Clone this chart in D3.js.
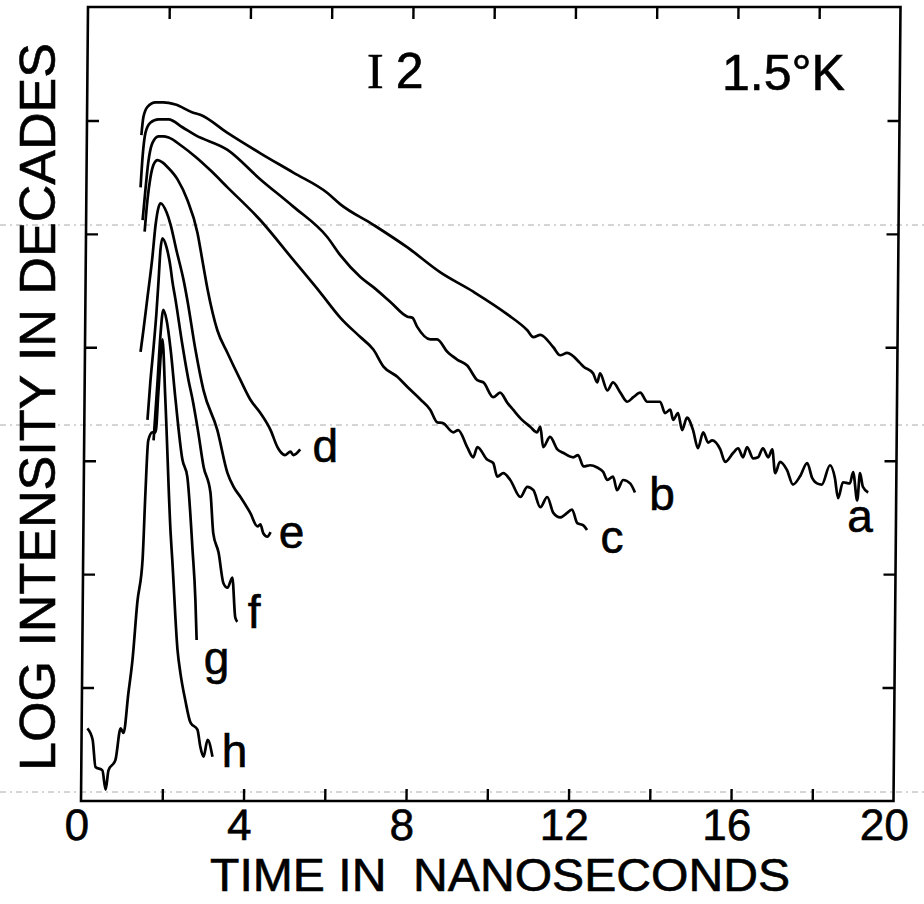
<!DOCTYPE html>
<html>
<head>
<meta charset="utf-8">
<script src="https://cdn.jsdelivr.net/npm/d3@7"></script>
<style>
  html, body { margin: 0; padding: 0; background: #fff; }
  svg { display: block; }
  text { font-family: "Liberation Sans", Arial, Helvetica, sans-serif; fill: #000; stroke: #000; stroke-width: 0.6; }
</style>
</head>
<body>
<div id="chart"></div>
<script>
// decay curves, [time in ns, log intensity in decades]
const curveA = [[1.40,5.87],[1.45,6.03],[1.55,6.12],[1.75,6.16],[1.94,6.16],[2.24,6.14],[2.66,6.07],[2.85,6.05],[3.52,5.89],[4.33,5.71],[5.14,5.54],[5.98,5.36],[6.30,5.26],[7.11,5.08],[7.95,4.88],[8.76,4.66],[9.57,4.49],[10.41,4.29],[10.90,4.15],[11.05,4.09],[11.22,4.11],[11.54,4.00],[11.71,3.93],[11.88,3.95],[12.20,3.86],[12.28,3.83],[12.52,3.77],[12.62,3.69],[12.69,3.77],[12.87,3.62],[13.01,3.69],[13.19,3.60],[13.36,3.52],[13.51,3.56],[13.68,3.60],[13.85,3.52],[14.17,3.52],[14.29,3.42],[14.42,3.45],[14.49,3.36],[14.61,3.42],[14.71,3.27],[14.83,3.38],[14.98,3.27],[15.10,3.11],[15.23,3.25],[15.35,3.16],[15.45,3.18],[15.65,3.10],[15.77,2.99],[15.97,3.07],[16.09,3.11],[16.21,3.03],[16.31,3.12],[16.46,3.02],[16.58,3.03],[16.70,3.11],[16.83,3.03],[16.93,3.10],[17.00,2.89],[17.12,2.99],[17.29,2.92],[17.44,2.79],[17.61,2.86],[17.79,2.98],[17.91,2.85],[18.03,2.80],[18.15,2.79],[18.35,2.96],[18.47,2.85],[18.55,2.67],[18.67,2.81],[18.84,2.80],[18.92,2.90],[19.02,2.65],[19.09,2.89],[19.16,2.77],[19.29,2.72]];
const curveB = [[1.38,5.41],[1.43,5.68],[1.50,5.89],[1.62,5.98],[1.82,6.01],[2.07,6.01],[2.41,5.94],[2.73,5.87],[3.52,5.74],[4.33,5.48],[5.14,5.24],[5.98,4.97],[6.30,4.81],[6.79,4.62],[7.11,4.53],[7.53,4.40],[7.95,4.27],[8.07,4.26],[8.19,4.18],[8.51,4.07],[8.68,4.07],[8.93,3.96],[9.18,3.89],[9.42,3.84],[9.67,3.71],[9.82,3.69],[10.06,3.56],[10.23,3.60],[10.41,3.51],[10.55,3.45],[10.77,3.36],[10.97,3.30],[11.14,3.25],[11.22,3.30],[11.29,3.12],[11.46,3.21],[11.64,3.10],[11.78,3.07],[12.03,3.03],[12.15,3.05],[12.28,2.95],[12.45,2.96],[12.62,2.94],[12.77,2.90],[12.87,2.83],[13.01,2.86],[13.11,2.74],[13.26,2.83],[13.43,2.80],[13.55,2.72]];
const curveC = [[1.43,5.12],[1.50,5.39],[1.57,5.63],[1.67,5.80],[1.82,5.86],[1.94,5.86],[2.07,5.85],[2.41,5.77],[2.73,5.68],[3.10,5.56],[3.52,5.41],[4.33,5.12],[5.14,4.77],[5.81,4.48],[6.30,4.26],[6.79,4.09],[7.11,3.98],[7.36,3.83],[7.70,3.74],[7.95,3.65],[8.27,3.54],[8.51,3.45],[8.68,3.34],[8.83,3.33],[9.08,3.25],[9.20,3.27],[9.42,3.12],[9.57,3.03],[9.67,3.12],[9.91,3.01],[10.06,2.98],[10.16,2.86],[10.31,2.89],[10.48,2.83],[10.73,2.68],[10.90,2.77],[11.05,2.74],[11.22,2.59],[11.39,2.68],[11.54,2.54],[11.71,2.50],[11.88,2.54],[12.00,2.57],[12.13,2.45],[12.28,2.43],[12.37,2.39]];
const curveD = [[1.48,5.02],[1.55,5.30],[1.62,5.49],[1.70,5.61],[1.80,5.65],[1.92,5.63],[2.04,5.59],[2.29,5.48],[2.53,5.30],[2.78,5.01],[2.90,4.77],[3.03,4.51],[3.27,4.15],[3.52,3.95],[3.84,3.71],[4.08,3.54],[4.33,3.42],[4.58,3.27],[4.75,3.12],[4.82,3.08],[4.94,3.05],[5.07,3.08],[5.14,3.05],[5.31,3.10]];
const curveE = [[1.38,3.96],[1.45,4.15],[1.55,4.44],[1.67,4.79],[1.75,5.08],[1.82,5.23],[1.87,5.27],[2.02,5.19],[2.12,5.08],[2.26,4.86],[2.44,4.59],[2.53,4.42],[2.73,3.98],[2.93,3.62],[3.27,3.27],[3.52,2.89],[3.67,2.77],[3.84,2.68],[4.08,2.54],[4.26,2.42],[4.33,2.44],[4.40,2.36],[4.50,2.33],[4.58,2.37]];
const curveF = [[1.55,3.36],[1.62,3.69],[1.70,4.00],[1.77,4.30],[1.82,4.57],[1.87,4.86],[1.92,4.96],[2.02,4.88],[2.12,4.70],[2.16,4.59],[2.24,4.42],[2.41,4.02],[2.56,3.71],[2.66,3.54],[2.80,3.25],[2.93,2.95],[3.10,2.72],[3.17,2.36],[3.30,2.19],[3.42,1.92],[3.52,1.88],[3.64,1.97],[3.71,1.62],[3.76,1.58]];
const curveG = [[1.70,3.18],[1.80,3.71],[1.87,4.11],[1.94,4.33],[2.02,4.24],[2.12,3.98],[2.24,3.54],[2.41,3.01],[2.53,2.86],[2.66,2.21],[2.73,1.77],[2.76,1.42]];
const curveH = [[0.07,0.64],[0.20,0.54],[0.27,0.30],[0.44,0.27],[0.52,0.10],[0.59,0.27],[0.76,0.36],[0.89,0.64],[0.96,0.60],[1.08,0.95],[1.18,1.24],[1.30,1.75],[1.43,2.13],[1.50,2.72],[1.57,3.18],[1.67,3.25],[1.75,3.25],[1.82,3.61],[1.92,4.07],[1.99,3.54],[2.12,2.36],[2.16,2.13],[2.29,1.33],[2.36,1.13],[2.48,0.89],[2.61,0.69],[2.78,0.63],[2.85,0.48],[2.93,0.39],[3.03,0.54],[3.15,0.39]];

const curveNames = ["a", "b", "c", "d", "e", "f", "g", "h"];
const curveData = [curveA, curveB, curveC, curveD, curveE, curveF, curveG, curveH];

const xTickMarks = [2, 4, 6, 8, 10, 12, 14, 16, 18];
const xTickLabels = [0, 4, 8, 12, 16, 20];
const yTickMarks = [1, 2, 3, 4, 5, 6];

const xTitle = "TIME IN  NANOSECONDS";
const yTitle = "LOG INTENSITY IN DECADES";
const sampleLabel = ["I", "2"];
const tempLabel = "1.5°K";

// label placement relative to each curve's last point (px)
const labelOffset = {
  a: [-8, 40], b: [27, 18], c: [25, 23], d: [25, 13],
  e: [21, 16], f: [17, 6], g: [20, 34], h: [22, 10]
};

const width = 924, height = 904;
const frame = { left: 84.5, right: 897, top: 7, bottom: 801 };
const midY = (frame.top + frame.bottom) / 2;
const skew = -0.505; // the scanned frame leans slightly

const svg = d3.select("#chart").append("svg")
  .attr("width", width)
  .attr("height", height);

svg.append("rect").attr("width", width).attr("height", height).attr("fill", "#fff");

const x = d3.scaleLinear().domain([0, 20]).range([frame.left, frame.right]);
const y = d3.scaleLinear().domain([0, 7]).range([frame.bottom, frame.top]);

// faint scan lines
svg.append("g")
  .selectAll("line")
  .data([225, 425, 792])
  .join("line")
  .attr("x1", 0).attr("x2", width)
  .attr("y1", (d) => d).attr("y2", (d) => d)
  .attr("stroke", "#aaa")
  .attr("stroke-width", 1)
  .attr("stroke-dasharray", "6,4,2,4");

const frameGroup = svg.append("g")
  .attr("transform", `translate(0,${midY}) skewX(${skew}) translate(0,${-midY})`);

frameGroup.append("rect")
  .attr("x", frame.left)
  .attr("y", frame.top)
  .attr("width", frame.right - frame.left)
  .attr("height", frame.bottom - frame.top)
  .attr("fill", "none")
  .attr("stroke", "#000")
  .attr("stroke-width", 2.6);

const tickLen = 12;
const styleTicks = (g) => {
  g.select(".domain").remove();
  g.selectAll(".tick line").attr("stroke", "#000").attr("stroke-width", 2.4);
};

frameGroup.append("g")
  .attr("transform", `translate(0,${frame.bottom})`)
  .call(d3.axisBottom(x).tickValues(xTickMarks).tickSize(-tickLen).tickFormat(""))
  .call(styleTicks);

frameGroup.append("g")
  .attr("transform", `translate(0,${frame.top})`)
  .call(d3.axisTop(x).tickValues(xTickMarks).tickSize(-tickLen).tickFormat(""))
  .call(styleTicks);

frameGroup.append("g")
  .attr("transform", `translate(${frame.left},0)`)
  .call(d3.axisLeft(y).tickValues(yTickMarks).tickSize(-tickLen).tickFormat(""))
  .call(styleTicks);

frameGroup.append("g")
  .attr("transform", `translate(${frame.right},0)`)
  .call(d3.axisRight(y).tickValues(yTickMarks).tickSize(-tickLen).tickFormat(""))
  .call(styleTicks);

// tick labels
frameGroup.append("g")
  .selectAll("text")
  .data(xTickLabels)
  .join("text")
  .attr("x", (d) => x(d) + (d === 20 ? -9 : -4))
  .attr("y", 840)
  .attr("text-anchor", "middle")
  .attr("font-size", 44)
  .text((d) => d);

// curves
const line = d3.line()
  .x((d) => x(d[0]))
  .y((d) => y(d[1]))
  .curve(d3.curveMonotoneX);

svg.append("g")
  .selectAll("path")
  .data(curveData)
  .join("path")
  .attr("d", line)
  .attr("fill", "none")
  .attr("stroke", "#000")
  .attr("stroke-width", 2.7)
  .attr("stroke-linejoin", "round");

svg.append("g")
  .selectAll("text")
  .data(curveNames)
  .join("text")
  .attr("x", (d, i) => x(curveData[i].at(-1)[0]) + labelOffset[d][0])
  .attr("y", (d, i) => y(curveData[i].at(-1)[1]) + labelOffset[d][1])
  .attr("text-anchor", "middle")
  .attr("font-size", 46)
  .text((d) => d);

// titles
svg.append("text")
  .attr("x", 210)
  .attr("y", 891)
  .attr("font-size", 46)
  .attr("textLength", 580)
  .attr("lengthAdjust", "spacingAndGlyphs")
  .style("white-space", "pre")
  .text(xTitle);

svg.append("text")
  .attr("transform", `translate(55,${(42 + 772) / 2}) rotate(-90)`)
  .attr("text-anchor", "middle")
  .attr("font-size", 50)
  .attr("textLength", 728)
  .attr("lengthAdjust", "spacingAndGlyphs")
  .text(yTitle);

const sample = svg.append("text")
  .attr("x", 367)
  .attr("y", 88)
  .attr("font-size", 50);
sample.append("tspan")
  .style("font-family", "'Liberation Serif', 'Times New Roman', serif")
  .text(sampleLabel[0]);
sample.append("tspan")
  .attr("dx", 12)
  .text(sampleLabel[1]);

svg.append("text")
  .attr("x", 722)
  .attr("y", 90)
  .attr("font-size", 50)
  .attr("textLength", 123)
  .attr("lengthAdjust", "spacingAndGlyphs")
  .text(tempLabel);
</script>
</body>
</html>
